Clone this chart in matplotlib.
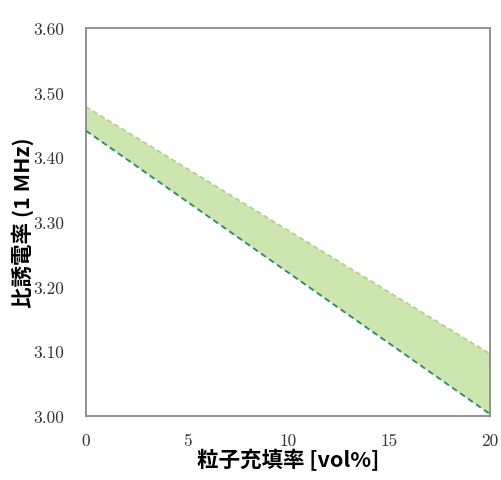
import matplotlib
matplotlib.use("Agg")
import matplotlib.pyplot as plt
import numpy as np

# Data
fill_ratio = [0, 20]                # vol%
upper_eps = [3.478, 3.096]
lower_eps = [3.441, 3.003]
x_ticks = [0, 5, 10, 15, 20]
y_ticks = [3.00, 3.10, 3.20, 3.30, 3.40, 3.50, 3.60]
y_tick_labels = ["3.00", "3.10", "3.20", "3.30", "3.40", "3.50", "3.60"]
x_label = "粒子充填率 [vol%]"
y_label = "比誘電率 (1 MHz)"

plt.rcParams['font.family'] = ['Noto Sans CJK JP', 'DejaVu Sans']

fig = plt.figure(figsize=(5.01, 4.81), dpi=100)
ax = fig.add_axes([0.1717, 0.133, 0.8063, 0.807])

ax.fill_between(fill_ratio, lower_eps, upper_eps, color="#cde5ae", linewidth=0, zorder=1)
ax.plot(fill_ratio, upper_eps, color="#a9cf8e", linestyle=(0, (3, 2)), linewidth=1.2, zorder=2)
ax.plot(fill_ratio, lower_eps, color="#2f8f68", linestyle=(0, (3, 2)), linewidth=1.4, zorder=3)

ax.set_xlim(0, 20)
ax.set_ylim(3.0, 3.6)
ax.set_xticks(x_ticks)
ax.set_xticklabels([str(v) for v in x_ticks], family=['cmr10', 'DejaVu Serif'], fontsize=12.5, color="#333333")
ax.set_yticks(y_ticks)
ax.set_yticklabels(y_tick_labels, family=['cmr10', 'DejaVu Serif'], fontsize=12.5, color="#333333")
ax.tick_params(axis='both', length=0)
ax.tick_params(axis='x', pad=12)
ax.tick_params(axis='y', pad=16)

for s in ax.spines.values():
    s.set_color("#8a8a8a")
    s.set_linewidth(1.3)

ax.set_xlabel(x_label, fontsize=15.5, fontweight='bold', labelpad=0)
ax.set_ylabel(y_label, fontsize=15.5, fontweight='bold', labelpad=-1)

fig.savefig("out.png", dpi=100, facecolor="white")
